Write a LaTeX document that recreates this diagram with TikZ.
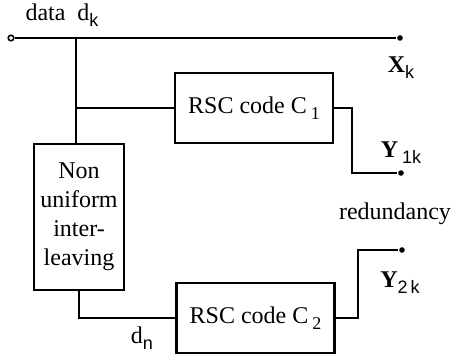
\documentclass[tikz,border=0pt]{standalone}
\usepackage{fontspec}
\setmainfont{Liberation Serif}
\newfontfamily\subsans{Liberation Sans}
\newcommand{\lowsub}[1]{\raisebox{-0.55ex}{\fontsize{9}{10}\selectfont #1}}
\newcommand{\lowsubsf}[1]{\raisebox{-0.55ex}{\fontsize{9}{10}\selectfont\subsans #1}}

\begin{document}
\begin{tikzpicture}[
    x=0.5pt, y=-0.5pt,
    line width=1.1pt,
    every node/.style={font=\fontsize{12}{14.5}\selectfont},
    rscbox/.style={draw,minimum width=79pt,minimum height=35pt,inner sep=0pt},
    dot/.style={circle,fill=black,inner sep=0pt,minimum size=2.8pt},
    opendot/.style={circle,draw,fill=white,line width=0.8pt,inner sep=0pt,minimum size=2.8pt}
]
\useasboundingbox (0,0) rectangle (454,356);

% data line
\node[opendot] (in) at (11,38) {};
\node[dot] (xk) at (400,38) {};
\coordinate (br) at (76,38);
\coordinate (br1) at (76,108);

% blocks
\node[rscbox] (rsc1) at (254,108) {RSC code C\,\lowsub{1}};
\node[draw,align=center,minimum width=45pt,minimum height=73pt,inner sep=0pt] (intl) at (79,217)
    {Non\\uniform\\inter-\\leaving};
\node[rscbox] (rsc2) at (255.5,318) {RSC code C\,\lowsub{2}};

% outputs
\node[dot] (y1k) at (401,173) {};
\node[dot] (y2k) at (402,250) {};
\coordinate (c1) at (352,108);
\coordinate (c2) at (358,318);

% labels
\node (data) at (62,15) {data\ \ d\lowsubsf{k}};
\node (xlab) at (401,68) {\textbf{X}\lowsubsf{k}};
\node (y1lab) at (401,153) {\textbf{Y}\,\lowsubsf{1k}};
\node (redund) at (395,214) {redundancy};
\node (y2lab) at (400,283) {\textbf{Y}\lowsubsf{2\,k}};
\node (dn) at (142,338) {d\lowsubsf{n}};

\draw (in) -- (xk);
\draw (br) -- (br |- intl.north);
\draw (br1) -- (rsc1.west);
\draw (rsc1.east) -- (c1) -- (c1 |- y1k) -- (y1k);
\draw (intl.south) -- (intl.south |- rsc2.west) -- (rsc2.west);
\draw (rsc2.east) -- (c2) -- (c2 |- y2k) -- (y2k);

\end{tikzpicture}
\end{document}
